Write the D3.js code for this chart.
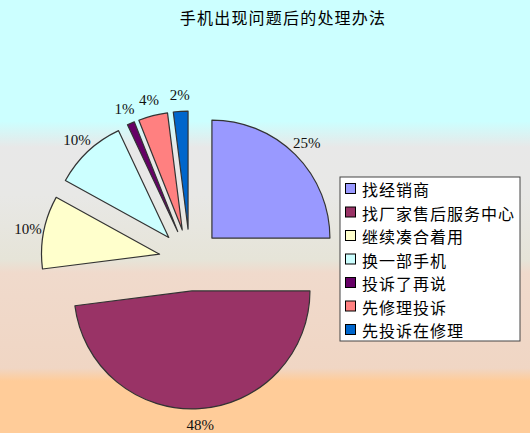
<!DOCTYPE html>
<html>
<head>
<meta charset="utf-8">
<script src="https://cdn.jsdelivr.net/npm/d3@7"></script>
<style>
  body { margin: 0; padding: 0; }
  #chart { width: 530px; height: 433px; }
</style>
</head>
<body>
<div id="chart"></div>
<script>
// data
var categories = ["找经销商", "找厂家售后服务中心", "继续凑合着用", "换一部手机", "投诉了再说", "先修理投诉", "先投诉在修理"];
var values = [25, 48, 10, 10, 1, 4, 2];
var colors = ["#9999FF", "#993366", "#FFFFCC", "#CCFFFF", "#660066", "#FF8080", "#0066CC"];
var title = "手机出现问题后的处理办法";

var svgWidth = 530;
var svgHeight = 433;

var svg = d3.select("#chart")
  .append("svg")
  .attr("width", svgWidth)
  .attr("height", svgHeight);

// background gradient
var defs = svg.append("defs");
var grad = defs.append("linearGradient")
  .attr("id", "bg")
  .attr("x1", 0).attr("y1", 0).attr("x2", 0).attr("y2", 1);
[[0, "#CCFFFF"], [0.28, "#CCFFFF"], [0.34, "#E8E8E8"], [0.45, "#E8E8E6"], [0.6, "#E6E4D8"],
 [0.63, "#F0DACC"], [0.85, "#F0D6C4"], [0.88, "#FFCC99"], [1, "#FFCC99"]].forEach(function(s) {
  grad.append("stop").attr("offset", s[0]).attr("stop-color", s[1]);
});

svg.append("rect")
  .attr("width", svgWidth)
  .attr("height", svgHeight)
  .attr("fill", "url(#bg)");

// title
svg.append("text")
  .attr("x", 283)
  .attr("y", 17)
  .attr("text-anchor", "middle")
  .attr("dominant-baseline", "central")
  .style("font-family", "'Noto Sans CJK SC', sans-serif")
  .style("font-size", "16px")
  .style("letter-spacing", "1.2px")
  .text(title);

// pie
var cx = 190, cy = 260, radius = 118, explode = 31, labelRadius = 134;

var color = d3.scaleOrdinal().domain(categories).range(colors);

var pie = d3.pie().sort(null).value(function(d) { return d.value; });
var arc = d3.arc().innerRadius(0).outerRadius(radius);

var pieData = pie(categories.map(function(c, i) { return { name: c, value: values[i] }; }));

var chartGroup = svg.append("g")
  .attr("transform", `translate(${cx}, ${cy})`);

var slices = chartGroup.selectAll("g.slice")
  .data(pieData)
  .enter()
  .append("g")
  .attr("class", "slice")
  .attr("transform", function(d) {
    var mid = (d.startAngle + d.endAngle) / 2;
    return `translate(${explode * Math.sin(mid)}, ${-explode * Math.cos(mid)})`;
  });

slices.append("path")
  .attr("d", arc)
  .attr("fill", function(d) { return color(d.data.name); })
  .attr("stroke", "#333")
  .attr("stroke-width", 1.2)
  .attr("stroke-linejoin", "round");

slices.append("text")
  .attr("x", function(d) { return labelRadius * Math.sin((d.startAngle + d.endAngle) / 2); })
  .attr("y", function(d) { return -labelRadius * Math.cos((d.startAngle + d.endAngle) / 2); })
  .attr("text-anchor", "middle")
  .attr("dominant-baseline", "central")
  .style("font-family", "'Liberation Serif', serif")
  .style("font-size", "15px")
  .attr("fill", "#111")
  .text(function(d) { return d.data.value + "%"; });

// legend
var legend = svg.append("g")
  .attr("transform", "translate(340, 177)");

legend.append("rect")
  .attr("width", 180)
  .attr("height", 164)
  .attr("fill", "#fff")
  .attr("stroke", "#444")
  .attr("stroke-width", 1);

var rowY = d3.scalePoint().domain(categories).range([12, 153]);

var items = legend.selectAll("g.item")
  .data(categories)
  .enter()
  .append("g")
  .attr("class", "item")
  .attr("transform", function(d) { return `translate(0, ${rowY(d)})`; });

items.append("rect")
  .attr("x", 5.5)
  .attr("y", -5.5)
  .attr("width", 10)
  .attr("height", 10)
  .attr("fill", function(d) { return color(d); })
  .attr("stroke", "#000")
  .attr("stroke-width", 1);

items.append("text")
  .attr("x", 22)
  .attr("y", 0)
  .attr("dominant-baseline", "central")
  .style("font-family", "'Noto Sans CJK SC', sans-serif")
  .style("font-size", "16px")
  .style("letter-spacing", "1px")
  .attr("fill", "#000")
  .text(function(d) { return d; });
</script>
</body>
</html>
